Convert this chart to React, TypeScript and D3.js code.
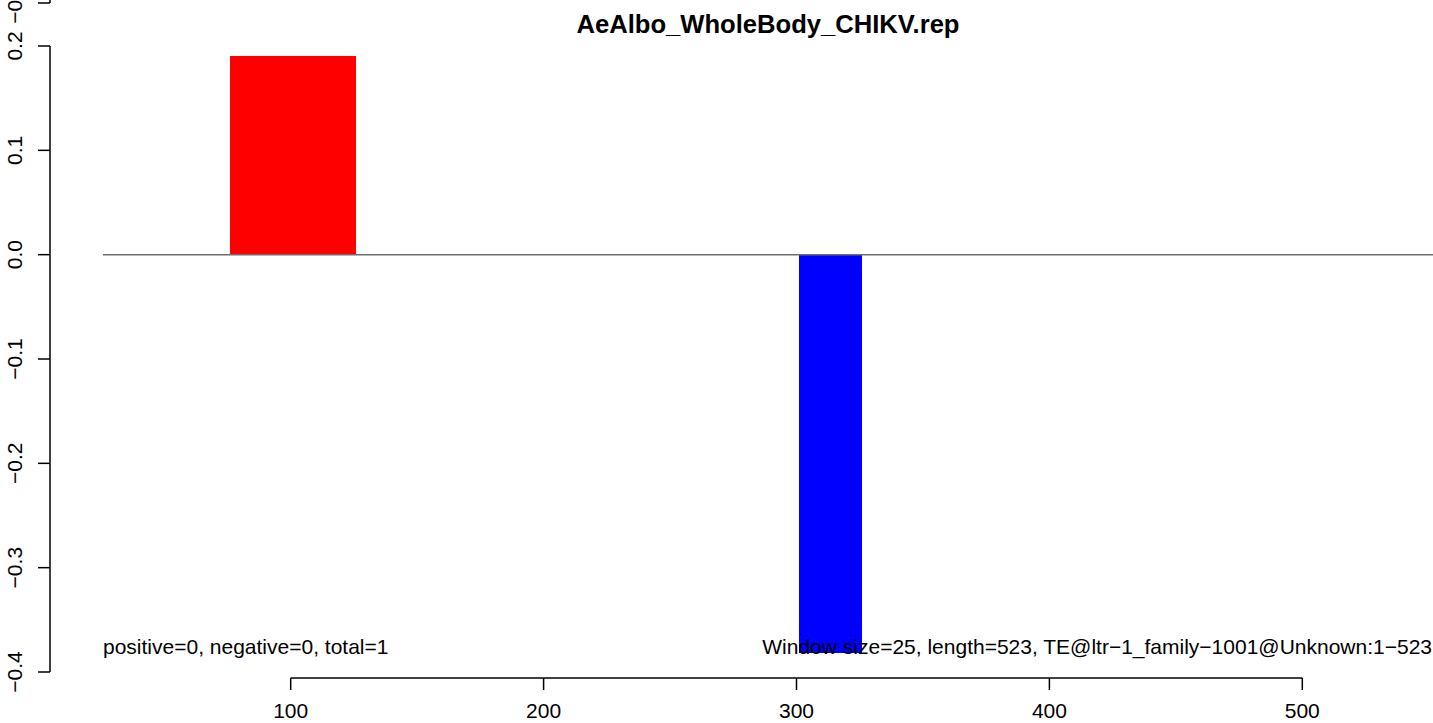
import React from "react";
import * as d3 from "d3";

const title = "AeAlbo_WholeBody_CHIKV.rep";
const windowStarts = [76, 101, 301];
const windowValues = [0.19, 0.19, -0.382];
const windowSize = 25;
const yTicks = [-0.4, -0.3, -0.2, -0.1, 0.0, 0.1, 0.2];
const xTicks = [100, 200, 300, 400, 500];
const leftNote = "positive=0, negative=0, total=1";
const rightNote = "Window size=25, length=523, TE@ltr\u22121_family\u22121001@Unknown:1\u2212523";

const W = 1433;
const H = 723;
const FONT = "'Liberation Sans', Arial, Helvetica, sans-serif";

const fmtY = (v: number) => (v < 0 ? "\u2212" : "") + Math.abs(v).toFixed(1);

export default function App() {
  const x = d3.scaleLinear().domain([100, 500]).range([290.7, 1302.3]);
  const y = d3.scaleLinear().domain([-0.4, 0.2]).range([672, 46]);
  const axisX = 50;
  const xAxisY = 678;

  const yAxis = (offset: number, key: string) => (
    <g key={key} transform={`translate(0,${offset})`}>
      <line x1={axisX} x2={axisX} y1={y(-0.4)} y2={y(0.2)} stroke="#000" strokeWidth={1.5} />
      {yTicks.map((t) => (
        <g key={t}>
          <line x1={axisX - 12} x2={axisX} y1={y(t)} y2={y(t)} stroke="#000" strokeWidth={1.5} />
          <text
            transform={`translate(22,${y(t)}) rotate(-90)`}
            textAnchor="middle"
            fontSize={21}
            fontFamily={FONT}
          >
            {fmtY(t)}
          </text>
        </g>
      ))}
    </g>
  );

  return (
    <svg width={W} height={H} style={{ position: "absolute", left: 0, top: 0, background: "#fff" }}>
      <rect x={0} y={0} width={W} height={H} fill="#fff" />
      {windowStarts.map((s, i) => {
        const v = windowValues[i];
        const x0 = x(s);
        const x1 = x(s + windowSize);
        const y0 = y(Math.max(0, v));
        const y1 = y(Math.min(0, v));
        return (
          <rect
            key={i}
            x={x0}
            y={y0}
            width={x1 - x0}
            height={y1 - y0}
            fill={v >= 0 ? "#ff0000" : "#0000ff"}
            shapeRendering="crispEdges"
          />
        );
      })}
      <line x1={103} x2={W} y1={y(0)} y2={y(0)} stroke="#6e6e6e" strokeWidth={1.5} />
      {yAxis(0, "main")}
      {yAxis(3 - 672, "prev")}
      <line x1={x(100)} x2={x(500)} y1={xAxisY} y2={xAxisY} stroke="#000" strokeWidth={1.5} />
      {xTicks.map((t) => (
        <g key={t}>
          <line x1={x(t)} x2={x(t)} y1={xAxisY} y2={xAxisY + 12} stroke="#000" strokeWidth={1.5} />
          <text x={x(t)} y={718} textAnchor="middle" fontSize={21} fontFamily={FONT}>
            {t}
          </text>
        </g>
      ))}
      <text x={103} y={654} fontSize={21} fontFamily={FONT}>
        {leftNote}
      </text>
      <text x={1432} y={654} textAnchor="end" fontSize={21} fontFamily={FONT}>
        {rightNote}
      </text>
      <text x={768} y={33} textAnchor="middle" fontSize={25.6} fontWeight="bold" fontFamily={FONT}>
        {title}
      </text>
    </svg>
  );
}
